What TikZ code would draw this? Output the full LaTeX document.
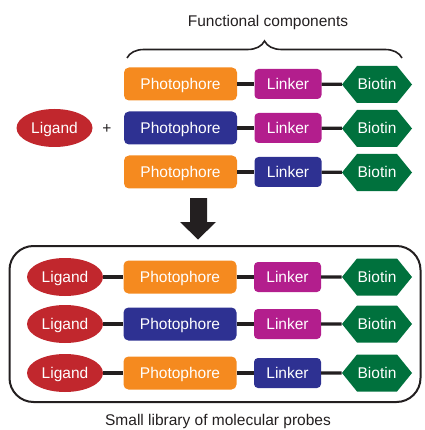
\documentclass[tikz,border=0pt]{standalone}
\usepackage{fontspec}
\setmainfont{Liberation Sans}
\usetikzlibrary{shapes.symbols,shapes.geometric,decorations.pathreplacing}
\definecolor{cOrange}{HTML}{F58A1F}
\definecolor{cBlue}{HTML}{2E3192}
\definecolor{cMag}{HTML}{B31E8D}
\definecolor{cGreen}{HTML}{00713D}
\definecolor{cRed}{HTML}{C1272D}
\definecolor{cInk}{HTML}{231F20}
\begin{document}
\begin{tikzpicture}[x=1pt,y=-1pt,
  every node/.style={font=\fontsize{15.5}{18}\selectfont, text=white, inner sep=0pt},
  ctext/.style={text height=11pt, text depth=0pt},
  photo/.style={ctext, rectangle, rounded corners=5pt, minimum width=113pt, minimum height=33pt},
  linkbox/.style={ctext, rectangle, rounded corners=4pt, minimum width=67pt, minimum height=30pt},
  biotin/.style={ctext, signal, signal to=west and east, signal pointer angle=102, fill=cGreen, minimum width=70pt, minimum height=37pt},
  ligand/.style={ctext, ellipse, fill=cRed, minimum width=76pt, minimum height=38pt},
  conn/.style={draw=cInk, line width=3.2pt},
  plain/.style={text=cInk}
]
\useasboundingbox (0,0) rectangle (424,430);

% top rows
\node[photo, fill=cOrange] (p1) at (180.5,84) {Photophore};
\node[linkbox, fill=cMag] (l1) at (288,84) {Linker};
\node[biotin] (b1) at (377,84.5) {Biotin};
\node[photo, fill=cBlue] (p2) at (180.5,128) {Photophore};
\node[linkbox, fill=cMag] (l2) at (288,128) {Linker};
\node[biotin] (b2) at (377,128.5) {Biotin};
\node[photo, fill=cOrange] (p3) at (180.5,172) {Photophore};
\node[linkbox, fill=cBlue] (l3) at (288,172) {Linker};
\node[biotin] (b3) at (377,172.5) {Biotin};
\node[ligand] (g0) at (54.5,128) {Ligand};
\node[plain] (plus) at (107,129) {+};
\draw[conn] (p1) -- (l1); \draw[conn] (l1) -- (b1);
\draw[conn] (p2) -- (l2); \draw[conn] (l2) -- (b2);
\draw[conn] (p3) -- (l3); \draw[conn] (l3) -- (b3);

% brace and label
\coordinate (brL) at (127,58);
\coordinate (brR) at (402,58);
\draw[cInk, line width=1.6pt, decorate, decoration={brace, amplitude=17pt, aspect=0.5}] (brL) -- (brR);
\node[plain] (fc) at (268,22) {Functional components};

% arrow
\fill[cInk] (190,198) -- (207,198) -- (207,222) -- (216,222) -- (198,239.5) -- (180,222) -- (190,222) -- cycle;

% library box
\node[draw=cInk, line width=2pt, rounded corners=24pt, minimum width=411pt, minimum height=156pt] (lib) at (215,324) {};

% bottom rows
\node[ligand] (g1) at (65,277) {Ligand};
\node[photo, fill=cOrange] (q1) at (180,277) {Photophore};
\node[linkbox, fill=cMag] (m1) at (287.5,277) {Linker};
\node[biotin] (c1) at (377,277) {Biotin};
\node[ligand] (g2) at (65,324) {Ligand};
\node[photo, fill=cBlue] (q2) at (180,324) {Photophore};
\node[linkbox, fill=cMag] (m2) at (287.5,324) {Linker};
\node[biotin] (c2) at (377,324) {Biotin};
\node[ligand] (g3) at (65,373) {Ligand};
\node[photo, fill=cOrange] (q3) at (180,373) {Photophore};
\node[linkbox, fill=cBlue] (m3) at (287.5,373) {Linker};
\node[biotin] (c3) at (377,373) {Biotin};
\draw[conn] (g1) -- (q1); \draw[conn] (q1) -- (m1); \draw[conn] (m1) -- (c1);
\draw[conn] (g2) -- (q2); \draw[conn] (q2) -- (m2); \draw[conn] (m2) -- (c2);
\draw[conn] (g3) -- (q3); \draw[conn] (q3) -- (m3); \draw[conn] (m3) -- (c3);

\node[plain] (cap) at (218,421) {Small library of molecular probes};
\end{tikzpicture}
\end{document}
